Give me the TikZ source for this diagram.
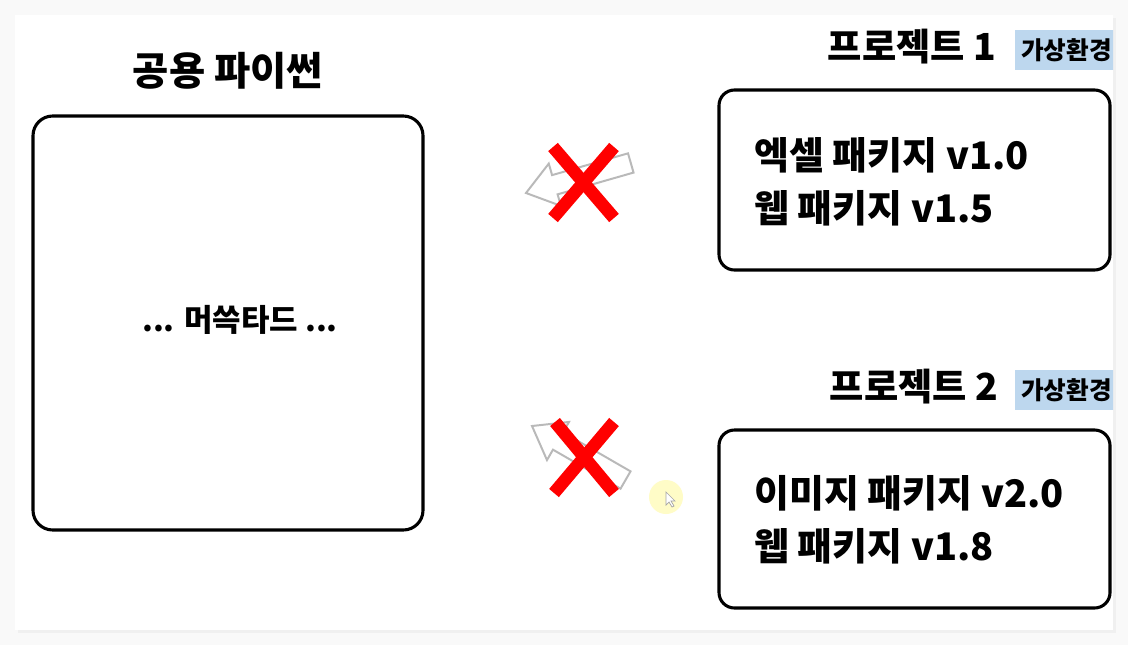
\documentclass[tikz,border=0pt]{standalone}
\usepackage{fontspec}
\setmainfont{Noto Sans CJK KR}
\usetikzlibrary{positioning}

\definecolor{venvblue}{HTML}{BDD7EE}
\definecolor{xred}{HTML}{FF0000}

\begin{document}
\begin{tikzpicture}[x=0.025cm, y=-0.025cm,
    box/.style={draw=black, line width=2.2pt, rounded corners=11pt},
    xmark/.style={xred, line width=9pt},
    hollow/.style={draw=gray!55, line width=1.4pt, fill=white, line join=miter},
    label/.style={font=\bfseries\fontsize{26.5}{30}\selectfont, inner sep=0pt},
    item/.style={font=\bfseries\fontsize{27}{32}\selectfont, inner sep=0pt, anchor=west},
    tag/.style={font=\bfseries\fontsize{17.5}{20}\selectfont, inner sep=0pt, anchor=west}]
    \useasboundingbox (0,0) rectangle (1128,645);

    % Screen and slide with a soft shadow
    \fill[gray!5] (0,0) rectangle (1128,645);
    \fill[gray!12] (18,18) rectangle (1116,633);
    \fill[white] (15,15) rectangle (1113,630);

    % Shared python
    \node[label, font=\bfseries\fontsize{28}{32}\selectfont] (pytitle) at (228,71) {공용 파이썬};
    \draw[box, rounded corners=14pt] (33,116) rectangle (423,530);
    \node[label, font=\bfseries\fontsize{22}{26}\selectfont] (mustard) at (240,320) {... 머쓱타드 ...};

    % Project 1
    \node[label] (proj1) at (912,47) {프로젝트 1};
    \begin{scope}
      \clip (15,15) rectangle (1113,630);
      \fill[venvblue] (1015,30) rectangle (1130,70);
      \node[tag] (venv1) at (1021,50) {가상환경};
    \end{scope}
    \draw[box] (719,90) rectangle (1110,270);
    \node[item] (pkg11) at (754,155) {엑셀 패키지 v1.0};
    \node[item] (pkg12) at (754,208) {웹 패키지 v1.5};

    % Project 2
    \node[label] (proj2) at (914,387) {프로젝트 2};
    \begin{scope}
      \clip (15,15) rectangle (1113,630);
      \fill[venvblue] (1015,370) rectangle (1130,410);
      \node[tag] (venv2) at (1021,390) {가상환경};
    \end{scope}
    \draw[box] (719,430) rectangle (1110,608);
    \node[item] (pkg21) at (754,493) {이미지 패키지 v2.0};
    \node[item] (pkg22) at (754,546) {웹 패키지 v1.8};

    % Crossed-out arrows
    \begin{scope}[shift={(526,193)}, rotate=16]
      \draw[hollow] (0,0) -- (30,-22) -- (30,-10) -- (109,-10) -- (109,10) -- (30,10) -- (30,22) -- cycle;
    \end{scope}
    \draw[xmark] (553,147) -- (614,218);
    \draw[xmark] (614,147) -- (553,218);

    \begin{scope}[shift={(532,426)}, rotate=-30]
      \draw[hollow] (0,0) -- (30,-22) -- (30,-10) -- (108,-10) -- (108,10) -- (30,10) -- (30,22) -- cycle;
    \end{scope}
    \draw[xmark] (555,422) -- (614,493);
    \draw[xmark] (614,422) -- (554,493);

    % Mouse pointer
    \fill[yellow!22] (666,497) circle (17);
    \draw[gray!70, fill=white, line width=0.5pt] (666,492) -- (666,505) -- (669,502) -- (672,507) -- (674,506) -- (671,501) -- (675,501) -- cycle;
\end{tikzpicture}
\end{document}
